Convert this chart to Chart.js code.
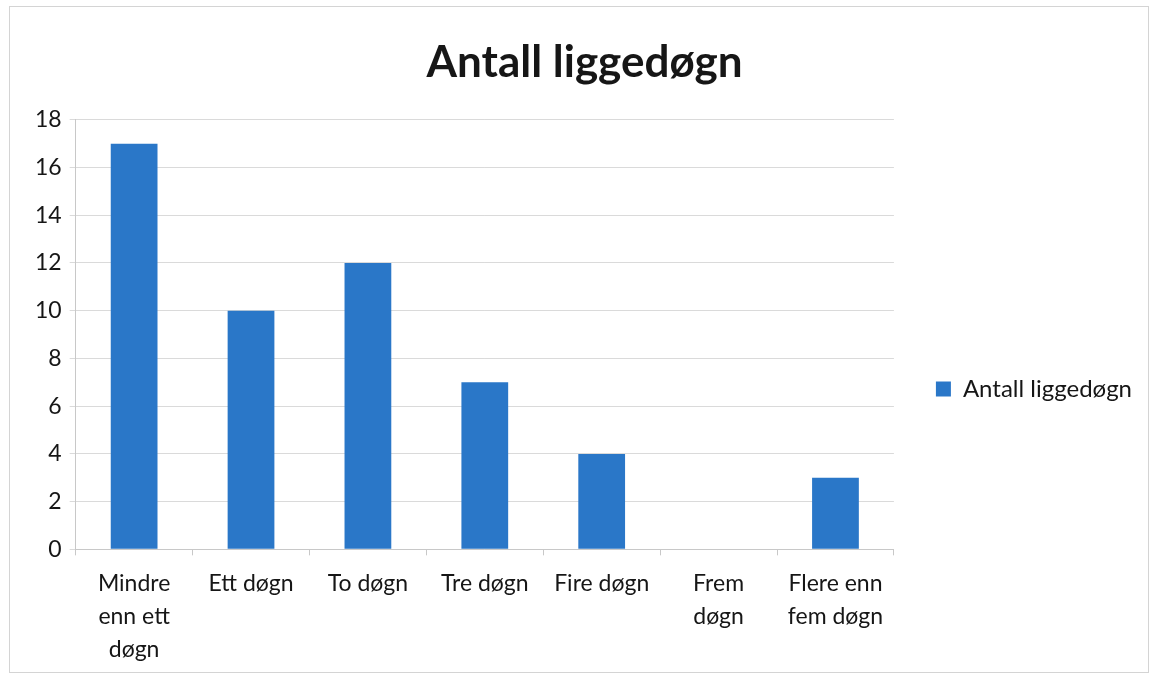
<!DOCTYPE html>
<html>
<head>
<meta charset="utf-8">
<script src="https://cdn.jsdelivr.net/npm/chart.js@4"></script>
<style>
  body { margin: 0; background: #fff; }
  #wrap { position: absolute; left: 0; top: 0; width: 1154px; height: 678px; }
  #frame { position: absolute; left: 9px; top: 6px; width: 1138px; height: 665px; border: 1px solid #d4d4d4; }
</style>
</head>
<body>
<div id="frame"></div>
<div id="wrap"><canvas id="chart"></canvas></div>
<script>
const categories = [
    ['Mindre', 'enn ett', 'døgn'],
    'Ett døgn',
    'To døgn',
    'Tre døgn',
    'Fire døgn',
    ['Frem', 'døgn'],
    ['Flere enn', 'fem døgn']
];
const seriesName = 'Antall liggedøgn';
const values = [17, 10, 12, 7, 4, 0, 3];
const yTicks = [0, 2, 4, 6, 8, 10, 12, 14, 16, 18];

const fontFamily = 'Lato, "Open Sans", sans-serif';
const ctx = document.getElementById('chart').getContext('2d');
const myChart = new Chart(ctx, {
    type: 'bar',
    data: {
        labels: categories,
        datasets: [{
            label: seriesName,
            data: values,
            backgroundColor: '#2a77c8',
            borderWidth: 0,
            barPercentage: 0.4,
            categoryPercentage: 1.0
        }]
    },
    options: {
        responsive: true,
        maintainAspectRatio: false,
        animation: false,
        layout: { padding: { top: 36, left: 27, right: 12, bottom: 0 } },
        scales: {
            x: {
                grid: { offset: true, drawOnChartArea: false, drawTicks: true, tickLength: 6, color: '#c8c8c8' },
                border: { color: '#c8c8c8' },
                ticks: { color: '#161616', font: { family: fontFamily, size: 23, lineHeight: 1.43 }, maxRotation: 0, autoSkip: false, padding: 12 }
            },
            y: {
                min: 0,
                max: 18,
                afterBuildTicks: axis => { axis.ticks = yTicks.map(v => ({ value: v })); },
                grid: { color: '#dadada', tickLength: 6 },
                border: { color: '#c8c8c8' },
                ticks: { color: '#161616', font: { family: fontFamily, size: 23 }, padding: 8 }
            }
        },
        plugins: {
            title: {
                display: true,
                text: 'Antall liggedøgn',
                color: '#161616',
                font: { family: fontFamily, size: 44, weight: 'bold' },
                padding: { top: 0, bottom: 31 }
            },
            legend: {
                display: true,
                position: 'right',
                // empty title just pushes the item down a bit
                title: { display: true, text: ' ', padding: 0, font: { family: fontFamily, size: 40, lineHeight: 1.6 } },
                labels: {
                    color: '#161616',
                    font: { family: fontFamily, size: 24 },
                    boxWidth: 15,
                    boxHeight: 15,
                    padding: 42
                }
            },
            tooltip: { enabled: false }
        }
    }
});
</script>
</body>
</html>
